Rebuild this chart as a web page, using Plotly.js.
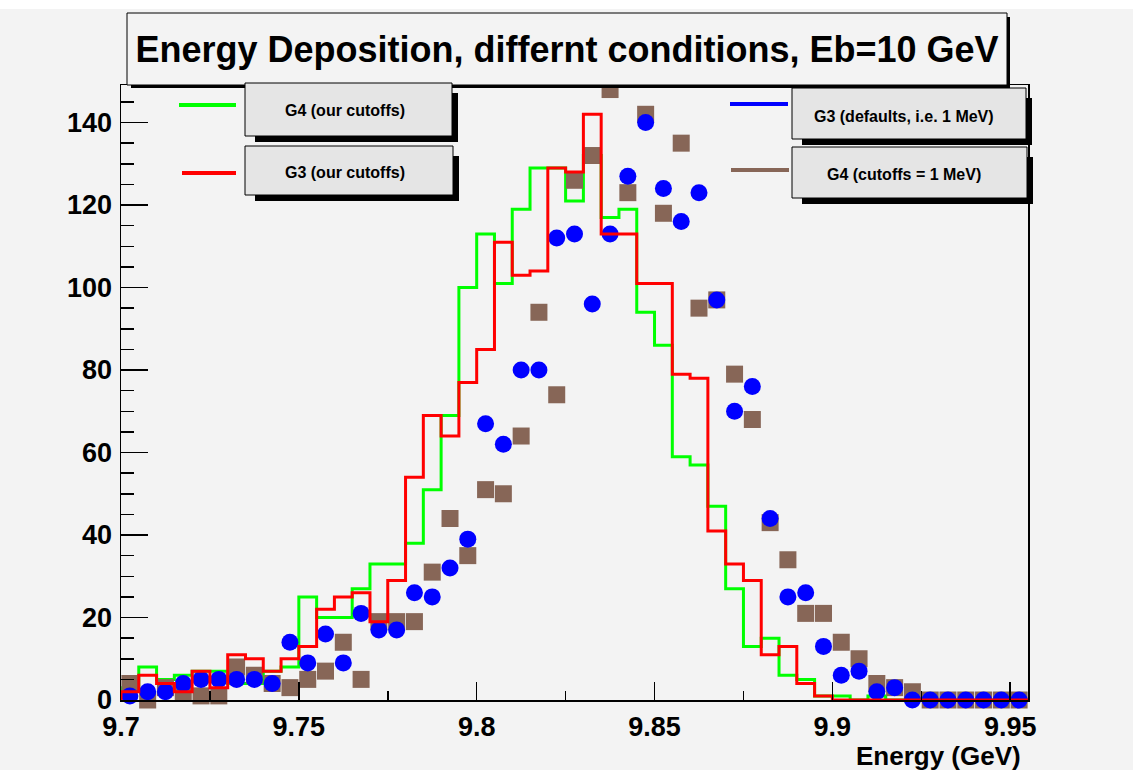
<!DOCTYPE html>
<html>
<head>
<meta charset="utf-8">
<script src="https://cdn.plot.ly/plotly-3.0.1.min.js"></script>
<style>
  html, body { margin: 0; padding: 0; background: #f3f3f3; }
  #chart { width: 1133px; height: 770px; }
</style>
</head>
<body>
<div id="chart"></div>
<script>
// ---- data (bin centres in GeV, bin width 0.005 GeV) ----
const energyBins = [9.7025, 9.7075, 9.7125, 9.7175, 9.7225, 9.7275, 9.7325, 9.7375, 9.7425, 9.7475,
  9.7525, 9.7575, 9.7625, 9.7675, 9.7725, 9.7775, 9.7825, 9.7875, 9.7925, 9.7975,
  9.8025, 9.8075, 9.8125, 9.8175, 9.8225, 9.8275, 9.8325, 9.8375, 9.8425, 9.8475,
  9.8525, 9.8575, 9.8625, 9.8675, 9.8725, 9.8775, 9.8825, 9.8875, 9.8925, 9.8975,
  9.9025, 9.9075, 9.9125, 9.9175, 9.9225, 9.9275, 9.9325, 9.9375, 9.9425, 9.9475, 9.9525];
const binWidth = 0.005;

const g4OurCutoffs = [3, 8, 5, 6, 7, 7, 4, 4, 7, 8, 25, 20, 20, 27, 33, 33, 38, 51, 69, 100,
  113, 101, 119, 129, 129, 121, 132, 117, 119, 94, 86, 59, 57, 47, 27, 13, 15, 6, 5, 1,
  1, 0, 1, 0, 0, 0, 0, 0, 0, 0, 0];
const g3OurCutoffs = [2, 6, 4, 2, 7, 3, 11, 10, 7, 10, 13, 22, 25, 26, 19, 29, 54, 69, 64, 77,
  85, 111, 103, 104, 129, 128, 142, 113, 113, 101, 101, 79, 78, 41, 33, 29, 11, 13, 4, 1,
  0, 0, 0, 0, 0, 0, 0, 0, 0, 0, 0];
const g3Defaults = [1, 2, 2, 4, 5, 5, 5, 5, 4, 14, 9, 16, 9, 21, 17, 17, 26, 25, 32, 39,
  67, 62, 80, 80, 112, 113, 96, 113, 127, 140, 124, 116, 123, 97, 70, 76, 44, 25, 26, 13,
  6, 7, 2, 3, 0, 0, 0, 0, 0, 0, 0];
const g4Cutoffs1MeV = [4, 0, 3, 2, 1, 1, 8, 6, 4, 3, 5, 7, 14, 5, 19, 19, 19, 31, 44, 35,
  51, 50, 64, 94, 74, 126, 132, 148, 123, 142, 118, 135, 95, 97, 79, 68, 43, 34, 21, 21,
  14, 10, 4, 3, 2, 0, 0, 0, 0, 0, 0];

const xTickVals = [9.7, 9.75, 9.8, 9.85, 9.9, 9.95];
const xTickText = ['9.7', '9.75', '9.8', '9.85', '9.9', '9.95'];
const yTickVals = [0, 20, 40, 60, 80, 100, 120, 140];
const yTickText = ['0', '20', '40', '60', '80', '100', '120', '140'];

const titleText = 'Energy Deposition, differnt conditions, Eb=10 GeV';
const xTitleText = 'Energy (GeV)';
const legendNames = ['G4 (our cutoffs)', 'G3 (our cutoffs)', 'G3 (defaults, i.e. 1 MeV)', 'G4 (cutoffs = 1 MeV)'];

// ---- helpers ----
function stepX(centers) {
  const xs = [centers[0] - binWidth / 2];
  centers.forEach(c => xs.push(c - binWidth / 2));
  xs.push(centers[centers.length - 1] + binWidth / 2);
  return xs;
}
function stepY(vals) {
  return [0].concat(vals).concat([vals[vals.length - 1]]);
}

const W = 1133, H = 770;
const L = 121, R = 1028, T = 85, B = 700;
const px2x = p => (p - L) / (R - L);
const py2y = p => (B - p) / (B - T);

const FONT = 'Liberation Sans, Arial, Helvetica, sans-serif';
const BG = '#f3f3f3';
const BOXBG = '#e5e5e5';
const GREEN = '#00ff00', RED = '#ff0000', BLUE = '#0000ff', BROWN = '#876657';

const traces = [
  {
    x: stepX(energyBins), y: stepY(g4OurCutoffs), type: 'scatter', mode: 'lines',
    line: { shape: 'hv', color: GREEN, width: 3 }, name: legendNames[0], cliponaxis: false,
    hoverinfo: 'skip'
  },
  {
    x: energyBins, y: g4Cutoffs1MeV, type: 'scatter', mode: 'markers',
    marker: { symbol: 'square', size: 17, color: BROWN }, name: legendNames[3], cliponaxis: false
  },
  {
    x: energyBins, y: g3Defaults, type: 'scatter', mode: 'markers',
    marker: { symbol: 'circle', size: 17, color: BLUE }, name: legendNames[2], cliponaxis: false
  },
  {
    x: stepX(energyBins), y: stepY(g3OurCutoffs), type: 'scatter', mode: 'lines',
    line: { shape: 'hv', color: RED, width: 3 }, name: legendNames[1], cliponaxis: false,
    hoverinfo: 'skip'
  }
];

function rect(x0, y0, x1, y1, fill, lineColor, lineWidth) {
  return {
    type: 'rect', xref: 'paper', yref: 'paper', layer: 'above',
    x0: px2x(x0), x1: px2x(x1), y0: py2y(y1), y1: py2y(y0),
    fillcolor: fill, line: { color: lineColor || fill, width: lineWidth || 0 }
  };
}
function hline(x0, x1, y, color, width) {
  return {
    type: 'line', xref: 'paper', yref: 'paper', layer: 'above',
    x0: px2x(x0), x1: px2x(x1), y0: py2y(y), y1: py2y(y),
    line: { color: color, width: width }
  };
}

const legendBoxes = [
  { box: [245, 83, 452, 136], text: [344.5, 111], line: [179, 236, 105], color: GREEN },
  { box: [245, 146, 453, 195], text: [344.5, 172], line: [182, 236, 173], color: RED },
  { box: [792, 88, 1026, 139], text: [903.5, 116], line: [730, 788, 104], color: BLUE },
  { box: [792, 147, 1027, 198], text: [904, 174], line: [731, 789, 170], color: BROWN }
];

const shapes = [
  rect(0, 0, W, 9, '#ffffff'),
  rect(131, 17, 1010, 88, '#000000'),
  rect(127, 13, 1007, 85, BG, '#000000', 1)
];
const annotations = [];
legendBoxes.forEach((lb, i) => {
  const [x0, y0, x1, y1] = lb.box;
  shapes.push(rect(x0 + 10, y0 + 10, x1 + 6, y1 + 6, '#000000'));
  shapes.push(rect(x0, y0, x1, y1, BOXBG, '#000000', 1));
  shapes.push(hline(lb.line[0], lb.line[1], lb.line[2], lb.color, 4));
  annotations.push({
    xref: 'paper', yref: 'paper', x: px2x(lb.text[0]), y: py2y(lb.text[1]),
    xanchor: 'center', yanchor: 'middle', showarrow: false, text: legendNames[i],
    font: { family: FONT, size: 16, weight: 'bold', color: '#000000' }
  });
});
annotations.push({
  xref: 'paper', yref: 'paper', x: px2x(1023), y: py2y(756),
  xanchor: 'right', yanchor: 'middle', showarrow: false, text: xTitleText,
  font: { family: FONT, size: 26, weight: 'bold', color: '#000000' }
});

const layout = {
  width: W, height: H,
  paper_bgcolor: BG, plot_bgcolor: BG,
  margin: { l: L, r: W - R, t: T, b: H - B, pad: 0 },
  showlegend: false,
  title: {
    text: titleText, xref: 'container', yref: 'container',
    x: 567 / W, xanchor: 'center', y: 1 - 49 / H, yanchor: 'middle',
    font: { family: FONT, size: 36, weight: 'bold', color: '#000000' }
  },
  xaxis: {
    range: [9.7, 9.955], tickmode: 'array', tickvals: xTickVals, ticktext: xTickText,
    ticks: 'inside', ticklen: 18, tickwidth: 1.5, tickcolor: '#000000',
    minor: { tick0: 9.7, dtick: 0.025, ticks: 'inside', ticklen: 9, tickwidth: 1.5, tickcolor: '#000000', showgrid: false },
    showline: true, linecolor: '#000000', linewidth: 1.5, mirror: true,
    showgrid: false, zeroline: false,
    tickfont: { family: FONT, size: 27, weight: 'bold', color: '#000000' },
    ticklabelstandoff: 2
  },
  yaxis: {
    range: [0, 149.1], tickmode: 'array', tickvals: yTickVals, ticktext: yTickText,
    ticks: 'inside', ticklen: 27, tickwidth: 1.5, tickcolor: '#000000',
    minor: { tick0: 0, dtick: 5, ticks: 'inside', ticklen: 13, tickwidth: 1.5, tickcolor: '#000000', showgrid: false },
    showline: true, linecolor: '#000000', linewidth: 1.5, mirror: true,
    showgrid: false, zeroline: false,
    tickfont: { family: FONT, size: 27, weight: 'bold', color: '#000000' },
    ticklabelstandoff: 2
  },
  shapes: shapes,
  annotations: annotations
};

Plotly.newPlot('chart', traces, layout, { displayModeBar: false, staticPlot: true });
</script>
</body>
</html>
